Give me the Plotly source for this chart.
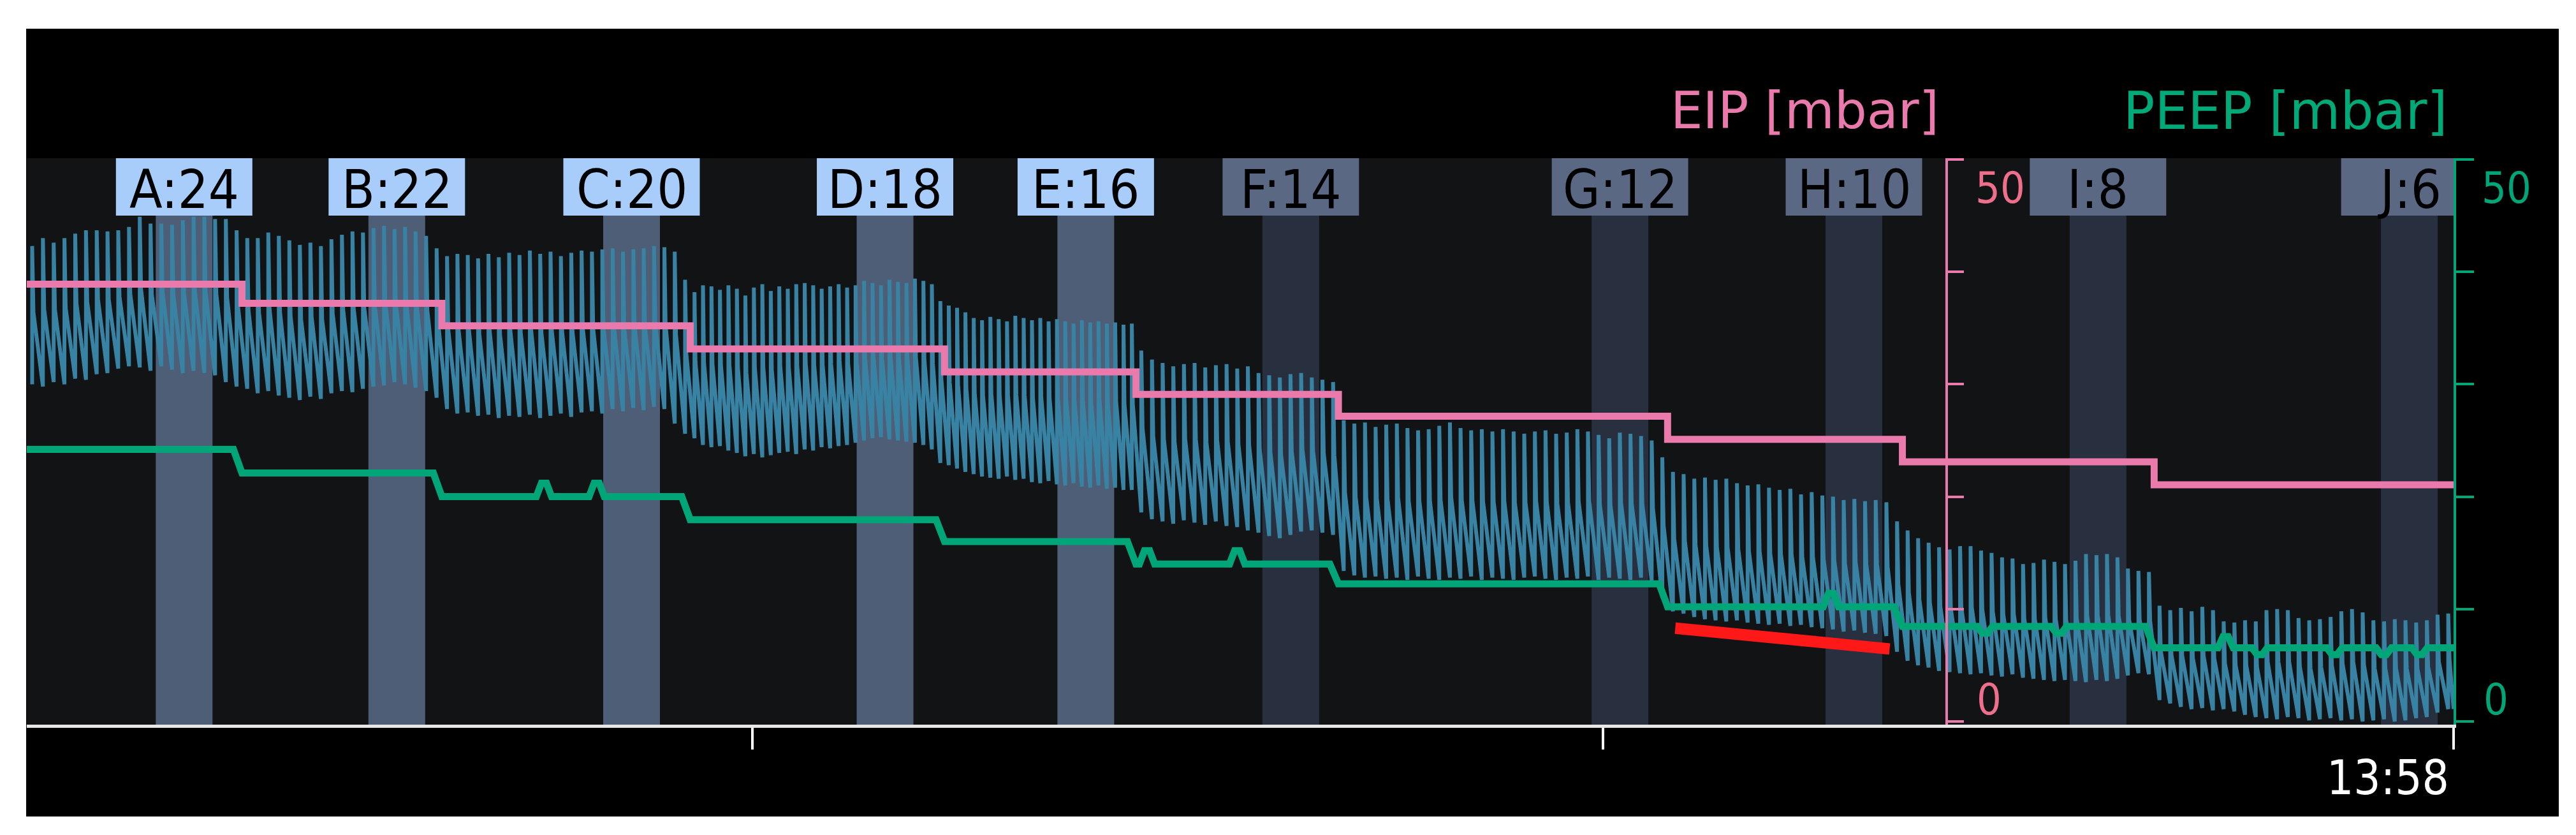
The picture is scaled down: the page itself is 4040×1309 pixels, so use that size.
import plotly.graph_objects as go

# ---------------- data ----------------
# time axis in minutes after 13:00 ; right edge = 13:58
t_start, t_end = 29.47, 58.0
step_times = [32.00, 34.35, 37.27, 40.26, 42.51, 44.89, 48.76, 51.52, 54.48]

labels = ["A:24", "B:22", "C:20", "D:18", "E:16", "F:14", "G:12", "H:10", "I:8", "J:6"]
window_centers = [31.32, 33.82, 36.58, 39.56, 41.92, 44.33, 48.20, 50.95, 53.82, 57.48]

eip_levels = [38.9, 37.2, 35.2, 33.15, 31.1, 29.1, 27.15, 25.1, 23.1, 21.05]
peep_levels = [24.2, 22.1, 20.0, 17.95, 16.0, 14.0, 12.25, 10.2, 8.45, 6.55]
peep_blip_times = [35.55, 36.17, 42.64, 43.70, 50.68, 55.32, 52.49, 53.36, 55.72, 56.60, 57.18, 57.60]
peep_blip_sizes = [1.2, 1.2, 1.2, 1.2, 1.2, 1.0, -0.6, -0.6, -0.6, -0.6, -0.6, -0.6]

# impedance waveform: per-breath peak and trough for every PEEP step
tops_A = [42.3, 43.0, 42.6, 43.0, 43.4, 43.7, 43.7, 43.6, 43.7, 44.0, 44.9, 44.3, 44.3, 44.2, 44.6, 44.9, 44.9, 44.7, 44.7, 43.7]
bots_A = [30.0, 29.8, 30.2, 30.0, 30.5, 30.4, 30.9, 31.0, 31.4, 31.6, 31.5, 31.2, 31.6, 31.3, 31.0, 31.2, 31.0, 30.8, 30.2, 29.8]
tops_B = [43.0, 43.0, 43.5, 43.2, 42.8, 42.4, 42.6, 42.3, 42.9, 43.3, 43.6, 43.5, 43.9, 44.1, 43.8, 44.0, 43.6, 43.2, 42.1]
bots_B = [29.6, 29.2, 29.4, 29.0, 28.8, 28.6, 28.9, 28.7, 29.2, 29.4, 29.3, 29.6, 29.8, 29.9, 30.2, 30.0, 29.7, 29.4, 28.8]
tops_C = [41.4, 41.6, 41.5, 41.2, 41.6, 41.3, 41.7, 41.5, 41.9, 41.6, 41.8, 41.4, 41.7, 41.9, 41.8, 42.0, 42.1, 41.8, 42.0, 42.1, 42.3, 42.2, 41.8, 39.3]
bots_C = [27.8, 27.4, 27.5, 27.2, 27.3, 27.0, 27.2, 27.1, 27.3, 27.0, 27.2, 27.4, 27.1, 27.5, 27.6, 27.4, 27.8, 27.6, 27.9, 27.7, 28.0, 27.8, 26.5, 25.6]
tops_D = [38.2, 38.8, 38.7, 38.4, 38.8, 38.5, 37.9, 38.6, 38.9, 38.3, 38.7, 38.5, 38.9, 39.0, 38.8, 38.5, 38.7, 38.9, 38.6, 38.8, 39.2, 39.0, 38.8, 39.3, 39.1, 39.0, 39.4, 39.2, 38.9, 37.4]
bots_D = [25.2, 24.6, 24.4, 24.5, 24.1, 23.9, 23.6, 23.8, 23.5, 23.7, 23.9, 24.0, 23.8, 24.2, 24.1, 24.4, 24.3, 24.5, 24.6, 24.8, 25.0, 25.2, 25.3, 25.1, 25.0, 24.9, 24.8, 24.6, 24.2, 23.0]
tops_E = [37.0, 36.8, 36.4, 35.9, 35.7, 36.0, 35.8, 35.6, 36.1, 35.9, 35.7, 35.9, 35.6, 35.8, 35.6, 35.4, 35.7, 35.5, 35.6, 35.4, 35.5, 35.3, 35.4]
bots_E = [22.8, 22.5, 22.2, 22.0, 21.8, 21.7, 21.6, 21.8, 21.5, 21.6, 21.3, 21.2, 21.4, 21.1, 21.0, 21.2, 20.9, 20.8, 21.0, 20.7, 20.8, 20.6, 20.6]
tops_F = [33.0, 32.2, 31.9, 31.6, 31.8, 31.9, 31.5, 31.7, 31.8, 31.4, 31.6, 31.0, 30.8, 30.6, 30.9, 31.0, 30.6, 30.4, 30.2]
bots_F = [18.6, 18.0, 17.8, 17.6, 17.9, 17.7, 17.5, 17.8, 17.4, 17.3, 17.0, 16.8, 16.5, 16.3, 16.6, 16.9, 17.0, 16.8, 16.6]
tops_G = [26.8, 26.5, 26.6, 26.2, 26.4, 26.5, 26.1, 25.9, 26.0, 26.3, 26.6, 26.1, 25.9, 26.0, 25.8, 26.0, 25.8, 25.6, 25.8, 25.9, 25.6, 25.7, 26.0, 25.8, 25.5, 25.2, 25.7, 25.6, 25.4, 25.0, 23.5]
bots_G = [13.4, 13.0, 12.8, 12.9, 12.7, 12.8, 12.6, 12.9, 12.7, 12.6, 12.8, 12.7, 12.9, 12.6, 12.8, 12.7, 12.6, 12.8, 12.9, 12.7, 12.6, 12.8, 12.7, 12.9, 12.6, 12.8, 12.7, 12.6, 12.8, 12.5, 11.0]
tops_H = [22.2, 22.0, 21.6, 21.7, 21.5, 21.6, 21.2, 21.0, 21.1, 20.8, 20.6, 20.7, 20.2, 20.4, 20.1, 20.0, 19.7, 19.8, 19.6, 19.7, 19.5, 17.8]
bots_H = [9.8, 9.6, 9.3, 9.1, 9.0, 8.9, 9.0, 8.8, 8.7, 8.6, 8.7, 8.5, 8.6, 8.4, 8.3, 8.2, 8.0, 8.1, 7.9, 7.8, 7.6, 6.2]
tops_I = [17.0, 16.3, 15.9, 15.5, 15.3, 15.6, 15.6, 15.2, 15.0, 14.6, 14.5, 14.0, 14.1, 14.4, 14.2, 14.0, 14.3, 14.9, 14.8, 14.9, 14.6, 13.6, 13.4, 13.3]
bots_I = [5.4, 5.0, 4.8, 4.5, 4.4, 4.3, 4.2, 4.3, 4.1, 4.0, 4.2, 3.9, 3.8, 3.7, 3.6, 3.7, 3.6, 3.5, 3.7, 3.6, 3.8, 4.1, 4.3, 4.2]
tops_J = [10.3, 9.9, 10.1, 9.8, 10.2, 9.9, 8.9, 8.8, 9.0, 8.9, 9.9, 10.0, 9.9, 9.2, 9.0, 9.1, 9.3, 9.8, 10.0, 9.7, 9.0, 8.9, 9.1, 9.0, 8.8, 9.0, 9.5, 9.6]
bots_J = [1.9, 1.6, 1.3, 1.1, 1.2, 1.0, 1.1, 0.9, 0.6, 0.4, 0.3, 0.2, 0.4, 0.3, 0.1, 0.2, 0.3, 0.1, 0.2, 0.0, 0.1, 0.2, 0.0, 0.1, 0.3, 0.4, 0.8, 1.1]

red_x = [48.85, 51.37]
red_y = [8.3, 6.45]

tick_vals_x = [38, 48, 58]
tick_vals_y = [0, 10, 20, 30, 40, 50]

# ---------------- styling ----------------
BLACK = "#000000"
PLOT_BG = "#121315"
PINK = "#ea7aab"
GREEN = "#00a677"
BLUE = "#3882a4"
RED = "#ff1818"
BOX_LIGHT, BAND_LIGHT = "#a8cdfa", "#4e5e76"
BOX_DARK, BAND_DARK = "#5a6884", "#28303f"
TITLE_FONT = "DejaVu Sans"
LABEL_FONT = "DejaVu Sans Condensed, DejaVu Sans"
NUM_FONT = "DejaVu Sans Condensed, DejaVu Sans"
WAVE_MID = 0.52      # fraction of breath where expiration ramp starts
Y_RANGE = [-0.284, 50.114]
BAND_HALF = 0.3336
BOX_HALF = 0.802
BOX_BOTTOM = 0.8986

bounds = [t_start] + step_times + [t_end]
seg_tops = [tops_A, tops_B, tops_C, tops_D, tops_E, tops_F, tops_G, tops_H, tops_I, tops_J]
seg_bots = [bots_A, bots_B, bots_C, bots_D, bots_E, bots_F, bots_G, bots_H, bots_I, bots_J]

# impedance trace
bx, by = [], []
for k in range(10):
    pairs = list(zip(seg_tops[k], seg_bots[k]))
    n = len(pairs)
    dt = (bounds[k + 1] - bounds[k]) / n
    for i, (hi, lo) in enumerate(pairs):
        t = bounds[k] + (i + 0.5) * dt
        bx += [t, t, t + 0.12 * dt]
        by += [lo, hi, lo + WAVE_MID * (hi - lo)]
bx.append(t_end)
by.append(seg_bots[-1][-1])

# EIP step line
eip_x = bounds[:-1] + [t_end]
eip_y = eip_levels + [eip_levels[-1]]


def peep_level_at(t):
    lvl = peep_levels[0]
    for k, ts in enumerate(step_times):
        if t >= ts:
            lvl = peep_levels[k + 1]
    return lvl


verts = [(t_start, peep_levels[0])]
for k, ts in enumerate(step_times):
    verts += [(ts - 0.1, peep_levels[k]), (ts, peep_levels[k + 1])]
for tb, h in zip(peep_blip_times, peep_blip_sizes):
    base = peep_level_at(tb)
    verts += [(tb - 0.09, base), (tb - 0.03, base + h), (tb + 0.03, base + h), (tb + 0.09, base)]
verts.append((t_end, peep_levels[-1]))
verts.sort(key=lambda p: p[0])
peep_x = [v[0] for v in verts]
peep_y = [v[1] for v in verts]

fig = go.Figure()
fig.add_trace(go.Scatter(x=bx, y=by, mode="lines", line=dict(color=BLUE, width=6),
                         yaxis="y", hoverinfo="skip", showlegend=False))
fig.add_trace(go.Scatter(x=eip_x, y=eip_y, mode="lines", line=dict(color=PINK, width=11, shape="hv"),
                         yaxis="y2", hoverinfo="skip", showlegend=False))
fig.add_trace(go.Scatter(x=peep_x, y=peep_y, mode="lines", line=dict(color=GREEN, width=11),
                         yaxis="y3", hoverinfo="skip", showlegend=False))
fig.add_trace(go.Scatter(x=red_x, y=red_y, mode="lines", line=dict(color=RED, width=18),
                         yaxis="y3", hoverinfo="skip", showlegend=False))

shapes = []
annotations = []
for i, (lab, c) in enumerate(zip(labels, window_centers)):
    light = i < 5
    shapes.append(dict(type="rect", xref="x", yref="paper", x0=c - BAND_HALF, x1=c + BAND_HALF,
                       y0=0, y1=BOX_BOTTOM, fillcolor=BAND_LIGHT if light else BAND_DARK,
                       line=dict(width=0), layer="below"))
    shapes.append(dict(type="rect", xref="x", yref="paper", x0=c - BOX_HALF, x1=min(c + BOX_HALF, t_end),
                       y0=BOX_BOTTOM, y1=1.0, fillcolor=BOX_LIGHT if light else BOX_DARK,
                       line=dict(width=0), layer="above"))
    annotations.append(dict(x=c, y=0.9448, xref="x", yref="paper", text=lab, showarrow=False,
                            xanchor="center", yanchor="middle",
                            font=dict(family=LABEL_FONT, size=84, color="#000000")))

# white frame around the black monitor panel
for x0, x1, y0, y1 in [(-0.02, -0.00026, -0.25, 1.3), (1.04335, 1.07, -0.25, 1.3),
                       (-0.02, 1.07, 1.2286, 1.3), (-0.02, 1.07, -0.25, -0.16216)]:
    shapes.append(dict(type="rect", xref="paper", yref="paper", x0=x0, x1=x1, y0=y0, y1=y1,
                       fillcolor="#ffffff", line=dict(width=0), layer="above"))

annotations += [
    dict(x=0.78849, y=1.0839, xref="paper", yref="paper", text="EIP [mbar]", showarrow=False,
         xanchor="right", yanchor="middle", font=dict(family=TITLE_FONT, size=80, color=PINK)),
    dict(x=0.99790, y=1.0839, xref="paper", yref="paper", text="PEEP [mbar]", showarrow=False,
         xanchor="right", yanchor="middle", font=dict(family=TITLE_FONT, size=82, color="#00aa78")),
    dict(x=0.99869, y=-0.0935, xref="paper", yref="paper", text="13:58", showarrow=False,
         xanchor="right", yanchor="middle", font=dict(family=NUM_FONT, size=74, color="#ffffff")),
    dict(x=0.80242, y=0.9478, xref="paper", yref="paper", text="50", showarrow=False,
         xanchor="left", yanchor="middle", font=dict(family=NUM_FONT, size=68, color="#ee6f8c")),
    dict(x=0.80294, y=0.0450, xref="paper", yref="paper", text="0", showarrow=False,
         xanchor="left", yanchor="middle", font=dict(family=NUM_FONT, size=68, color="#ee6f8c")),
    dict(x=1.01104, y=0.9478, xref="paper", yref="paper", text="50", showarrow=False,
         xanchor="left", yanchor="middle", font=dict(family=NUM_FONT, size=68, color="#00a677")),
    dict(x=1.01183, y=0.0450, xref="paper", yref="paper", text="0", showarrow=False,
         xanchor="left", yanchor="middle", font=dict(family=NUM_FONT, size=68, color="#00a677")),
]

common_y = dict(range=Y_RANGE, showgrid=False, zeroline=False, fixedrange=True)
fig.update_layout(
    width=4040, height=1309, autosize=False,
    margin=dict(l=34, r=200, t=240, b=181, pad=0),
    paper_bgcolor=BLACK, plot_bgcolor=PLOT_BG,
    showlegend=False,
    xaxis=dict(range=[t_start, t_end], showgrid=False, zeroline=False, showline=True,
               linecolor="#e8e8e8", linewidth=5, ticks="outside", tickvals=tick_vals_x,
               ticklen=34, tickwidth=4, tickcolor="#ffffff", showticklabels=False, fixedrange=True),
    yaxis=dict(visible=False, **common_y),
    yaxis2=dict(overlaying="y", anchor="free", position=0.7911, side="right", showline=True,
                linecolor=PINK, linewidth=4, ticks="outside", tickvals=tick_vals_y, ticklen=25,
                tickwidth=4, tickcolor=PINK, showticklabels=False, **common_y),
    yaxis3=dict(overlaying="y", anchor="x", side="right", showline=True,
                linecolor=GREEN, linewidth=4, ticks="outside", tickvals=tick_vals_y, ticklen=28,
                tickwidth=4, tickcolor=GREEN, showticklabels=False, **common_y),
    shapes=shapes,
    annotations=annotations,
)

fig.write_html("out.html")
